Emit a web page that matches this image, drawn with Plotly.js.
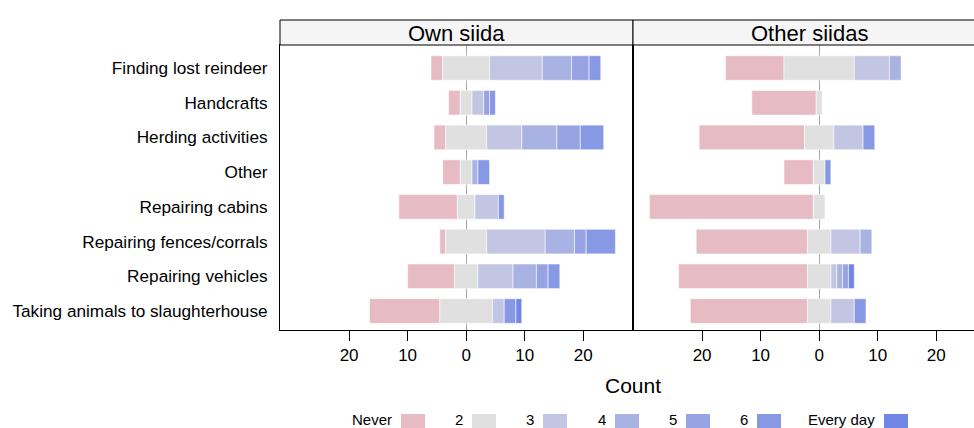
<!DOCTYPE html>
<html>
<head>
<meta charset="utf-8">
<script src="https://cdn.plot.ly/plotly-3.0.1.min.js"></script>
<style>
html,body{margin:0;padding:0;overflow:hidden;background:#fff;width:974px;height:428px;}
#chart{width:986px;height:428px;}
</style>
</head>
<body>
<div id="chart"></div>
<script>
// ---- data ----
const categories = ["Finding lost reindeer","Handcrafts","Herding activities","Other","Repairing cabins","Repairing fences/corrals","Repairing vehicles","Taking animals to slaughterhouse"];
const levels = ["Never","2","3","4","5","6","Every day"];
const panels = ["Own siida","Other siidas"];
const levelColors = ["#E6BBC4","#E0E0E0","#C2C6E3","#A9B3E3","#98A3E4","#8799E5","#7286E3"];

// Own siida counts per level
const ownNever = [2,2,2,3,10,1,8,12];
const own2     = [8,2,7,2,3,7,4,9];
const own3     = [9,2,6,0,4,10,6,2];
const own4     = [5,0,6,1,0,5,4,0];
const own5     = [3,1,4,0,0,2,2,0];
const own6     = [2,1,4,2,1,5,2,2];
const ownEvery = [0,0,0,0,0,0,0,1];

// Other siidas counts per level
const othNever = [10,11,18,5,28,19,22,20];
const oth2     = [12,1,5,2,2,4,4,4];
const oth3     = [6,0,5,0,0,5,1,4];
const oth4     = [2,0,0,0,0,2,1,0];
const oth5     = [0,0,0,0,0,0,1,0];
const oth6     = [0,0,2,1,0,0,0,2];
const othEvery = [0,0,0,0,0,0,1,0];

const tickVals = [-20,-10,0,10,20];
const tickText = ["20","10","0","10","20"];

// ---- build ----
const W = 986, H = 428;
const px = x => x / W;
const py = y => 1 - y / H;
const FONT = "Liberation Sans, Arial, Helvetica, sans-serif";

const panelData = [
  [ownNever, own2, own3, own4, own5, own6, ownEvery],
  [othNever, oth2, oth3, oth4, oth5, oth6, othEvery]
];

const traces = [];
panelData.forEach((series, p) => {
  const xa = p === 0 ? "x" : "x2";
  const ya = p === 0 ? "y" : "y2";
  const n = categories.length;
  const bases = levels.map(() => new Array(n).fill(0));
  for (let i = 0; i < n; i++) {
    const g = series[1][i];
    bases[0][i] = -g / 2 - series[0][i];
    bases[1][i] = -g / 2;
    let cum = g / 2;
    for (let k = 2; k < levels.length; k++) {
      bases[k][i] = cum;
      cum += series[k][i];
    }
  }
  levels.forEach((lv, k) => {
    traces.push({
      type: "bar", orientation: "h",
      y: categories,
      x: series[k].map(v => v > 0 ? v : null),
      base: bases[k],
      width: 0.71,
      marker: { color: levelColors[k], line: { color: "rgba(255,255,255,0.7)", width: 0.8 } },
      name: lv, showlegend: false, hoverinfo: "skip",
      xaxis: xa, yaxis: ya
    });
  });
});

const xRange = [-31.8, 28.5];
const yRange = [-0.547, 7.663];
const catOrder = categories.slice().reverse();

const xCommon = {
  range: xRange, tickvals: tickVals, ticktext: tickText,
  ticks: "outside", ticklen: 10, tickwidth: 1, tickcolor: "#000",
  showline: true, linecolor: "#000", linewidth: 1, mirror: true,
  showgrid: false, zeroline: true, zerolinecolor: "#A6A6A6", zerolinewidth: 1,
  tickfont: { family: FONT, size: 17, color: "#000" },
  fixedrange: true
};
const topCommon = {
  range: xRange, tickvals: tickVals, ticktext: tickText,
  ticks: "outside", ticklen: 8, tickwidth: 1, tickcolor: "#000",
  showline: false, showgrid: false, zeroline: false, showticklabels: false,
  side: "top", anchor: "free", position: py(20), fixedrange: true
};
const yCommon = {
  type: "category", categoryorder: "array", categoryarray: catOrder,
  range: yRange, showline: true, linecolor: "#000", linewidth: 1, mirror: true,
  showgrid: false, zeroline: false, ticks: "", fixedrange: true,
  ticklabelstandoff: 8,
  tickfont: { family: FONT, size: 17.2, color: "#000" }
};

const shapes = [];
const annotations = [];
// strips
[[280, 633], [633, 986]].forEach((xs, p) => {
  shapes.push({ type: "rect", xref: "paper", yref: "paper",
    x0: px(xs[0]), x1: px(xs[1]), y0: py(45), y1: py(20),
    fillcolor: "#F5F5F5", line: { color: "#000", width: 1 } });
  annotations.push({ xref: "paper", yref: "paper", x: px((xs[0] + xs[1]) / 2), y: py(33),
    text: panels[p], showarrow: false, xanchor: "center", yanchor: "middle",
    font: { family: FONT, size: 22, color: "#000" } });
});
// x title
annotations.push({ xref: "paper", yref: "paper", x: px(633), y: py(385),
  text: "Count", showarrow: false, xanchor: "center", yanchor: "middle",
  font: { family: FONT, size: 21, color: "#000" } });
// legend (text left of swatch)
const swatchLeft = [401, 472, 543, 615, 686, 757, 884];
levels.forEach((lv, k) => {
  shapes.push({ type: "rect", xref: "paper", yref: "paper",
    x0: px(swatchLeft[k]), x1: px(swatchLeft[k] + 24), y0: py(432), y1: py(414),
    fillcolor: levelColors[k], line: { width: 0 } });
  annotations.push({ xref: "paper", yref: "paper", x: px(swatchLeft[k] - 7), y: py(419),
    text: lv, showarrow: false, xanchor: "right", yanchor: "middle",
    font: { family: FONT, size: 15, color: "#000" } });
});

const layout = {
  width: W, height: H,
  margin: { l: 0, r: 0, t: 0, b: 0 },
  paper_bgcolor: "#fff", plot_bgcolor: "#fff",
  barmode: "overlay", bargap: 0,
  showlegend: false,
  xaxis: Object.assign({}, xCommon, { domain: [px(280), px(633)], anchor: "y" }),
  xaxis2: Object.assign({}, xCommon, { domain: [px(633), px(986)], anchor: "y2" }),
  xaxis3: Object.assign({}, topCommon, { overlaying: "x" }),
  xaxis4: Object.assign({}, topCommon, { overlaying: "x2" }),
  yaxis: Object.assign({}, yCommon, { domain: [py(330), py(45)], anchor: "x" }),
  yaxis2: Object.assign({}, yCommon, { domain: [py(330), py(45)], anchor: "x2", showticklabels: false }),
  shapes: shapes,
  annotations: annotations
};

Plotly.newPlot("chart", traces, layout, { displayModeBar: false, staticPlot: true });
</script>
</body>
</html>
